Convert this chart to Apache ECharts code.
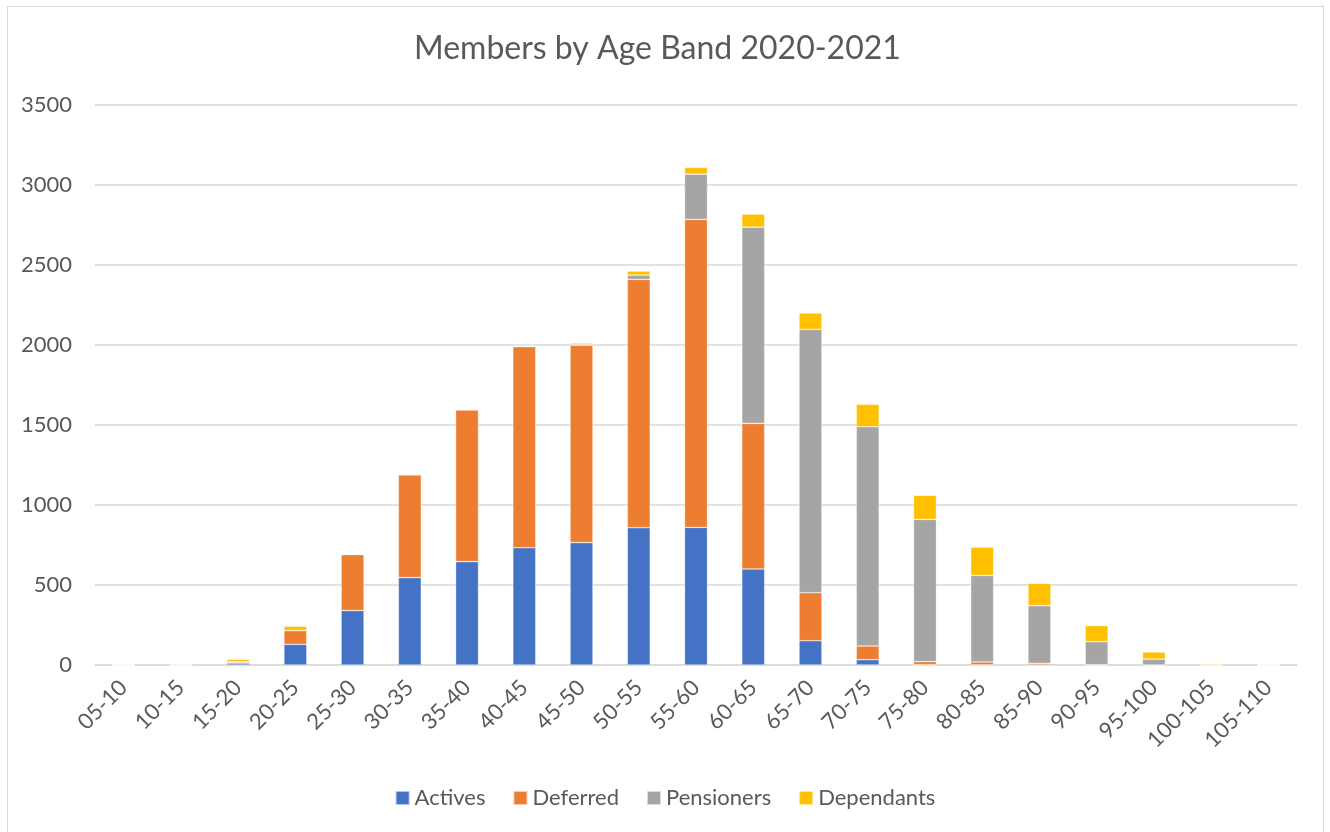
<!DOCTYPE html>
<html>
<head>
<meta charset="utf-8">
<script src="https://cdn.jsdelivr.net/npm/echarts@6/dist/echarts.min.js"></script>
<style>
html,body{margin:0;padding:0;background:#fff;}
#frame{position:absolute;left:7px;top:6px;width:1317px;height:830px;border:1.5px solid #d9d9d9;box-sizing:border-box;}
#chart{position:absolute;left:0;top:0;width:1330px;height:832px;}
</style>
</head>
<body>
<div id="frame"></div>
<div id="chart"></div>
<script>
const categories = ["05-10","10-15","15-20","20-25","25-30","30-35","35-40","40-45","45-50","50-55","55-60","60-65","65-70","70-75","75-80","80-85","85-90","90-95","95-100","100-105","105-110"];
const actives    = [0,0,12,129,340,546,646,733,765,858,860,600,152,33,2,1,0,0,0,0,0];
const deferred   = [0,0,7,86,350,643,948,1256,1233,1552,1925,910,300,86,19,18,10,2,0,0,0];
const pensioners = [0,0,1,0,2,0,3,3,5,27,283,1227,1646,1370,889,541,361,144,37,2,0];
const dependants = [2,4,15,27,3,0,3,4,9,25,42,81,102,140,150,177,139,100,44,6,2];
const yTicks = [0,500,1000,1500,2000,2500,3000,3500];

const FONT = 'Lato, "Open Sans", sans-serif';
const TXT = '#595959';
const chart = echarts.init(document.getElementById('chart'), null, {renderer:'canvas'});
function ser(name, data, color){
  return {name, type:'bar', stack:'total', data, barWidth:'40%',
    itemStyle:{color, borderColor:'rgba(255,255,255,0.6)', borderWidth:0.6}, emphasis:{disabled:true}};
}
chart.setOption({
  animation:false,
  title:{text:'Members by Age Band 2020-2021', left:409, top:28,
    textStyle:{fontFamily:FONT, fontSize:32, fontWeight:'normal', color:TXT}},
  grid:{left:95, right:33, top:105, bottom:167, containLabel:false},
  legend:{bottom:18, left:'center', itemWidth:14, itemHeight:14, itemGap:27, icon:'rect',
    textStyle:{fontFamily:FONT, fontSize:22, color:TXT},
    data:['Actives','Deferred','Pensioners','Dependants']},
  xAxis:{type:'category', data:categories,
    axisLine:{lineStyle:{color:'#d9d9d9', width:1.5}}, axisTick:{show:false},
    axisLabel:{rotate:45, fontFamily:FONT, fontSize:22, color:TXT, margin:19, interval:0, padding:[8,0,0,0]}},
  yAxis:{type:'value', min:0, max:3500, interval:500,
    axisLine:{show:false}, axisTick:{show:false},
    splitLine:{lineStyle:{color:'#d9d9d9', width:1.5}},
    axisLabel:{fontFamily:FONT, fontSize:22, color:TXT, margin:23,
      formatter:v=>yTicks.includes(v)?String(v):''}},
  series:[
    ser('Actives', actives, '#4472C4'),
    ser('Deferred', deferred, '#ED7D31'),
    ser('Pensioners', pensioners, '#A5A5A5'),
    ser('Dependants', dependants, '#FFC000')
  ]
});
</script>
</body>
</html>
